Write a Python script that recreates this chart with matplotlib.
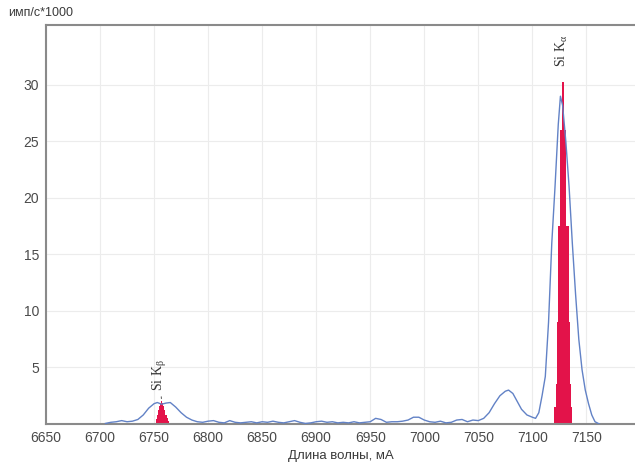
import matplotlib
matplotlib.use("Agg")
import matplotlib.pyplot as plt

# ---- data ----
wl = [6705, 6710, 6715, 6720, 6725, 6730, 6735, 6740, 6745, 6750,
      6753, 6757, 6761, 6765, 6770, 6775, 6780, 6785, 6790, 6795,
      6800, 6805, 6810, 6815, 6820, 6825, 6830, 6835, 6840, 6845,
      6850, 6855, 6860, 6865, 6870, 6875, 6880, 6885, 6890, 6895,
      6900, 6905, 6910, 6915, 6920, 6925, 6930, 6935, 6940, 6945,
      6950, 6955, 6960, 6965, 6970, 6975, 6980, 6985, 6990, 6995,
      7000, 7005, 7010, 7015, 7020, 7025, 7030, 7035, 7040, 7045,
      7050, 7055, 7060, 7065, 7070, 7075, 7078, 7082, 7086, 7090,
      7095, 7100, 7103, 7106, 7109, 7112, 7115, 7118, 7121, 7124,
      7126, 7128, 7131, 7134, 7137, 7140, 7143, 7146, 7149, 7152,
      7155, 7158, 7162]
counts = [0.05, 0.15, 0.2, 0.3, 0.2, 0.25, 0.4, 0.8, 1.4, 1.8,
          1.9, 1.75, 1.85, 1.9, 1.5, 1.0, 0.6, 0.35, 0.2, 0.15,
          0.25, 0.3, 0.15, 0.1, 0.3, 0.15, 0.1, 0.15, 0.2, 0.1,
          0.2, 0.15, 0.25, 0.15, 0.1, 0.2, 0.3, 0.15, 0.05, 0.1,
          0.2, 0.25, 0.15, 0.2, 0.1, 0.15, 0.1, 0.2, 0.1, 0.15,
          0.2, 0.5, 0.4, 0.15, 0.2, 0.2, 0.25, 0.35, 0.6, 0.6,
          0.35, 0.2, 0.15, 0.25, 0.1, 0.15, 0.35, 0.4, 0.2, 0.35,
          0.3, 0.5, 1.0, 1.8, 2.5, 2.9, 3.0, 2.7, 2.0, 1.3,
          0.8, 0.6, 0.5, 1.0, 2.5, 4.2, 9.0, 16.0, 21.0, 26.5,
          29.0, 28.2, 25.0, 21.0, 16.0, 11.5, 7.5, 4.8, 3.0, 1.8,
          0.8, 0.2, 0.0]

kb_x = [6752, 6753, 6754, 6755, 6756, 6757, 6758, 6759, 6760, 6761, 6762, 6763]
kb_h = [0.4, 0.8, 1.2, 1.6, 1.9, 2.0, 1.9, 1.6, 1.2, 0.8, 0.5, 0.3]

ka_x = [7121, 7122, 7123, 7124, 7125, 7126, 7127, 7128, 7129, 7130,
        7131, 7132, 7133, 7134, 7135, 7136]
ka_h = [1.5, 3.5, 9.0, 17.5, 17.5, 26.0, 26.0, 30.3, 30.3, 26.0,
        26.0, 17.5, 17.5, 9.0, 3.5, 1.5]

xticks = [6650, 6700, 6750, 6800, 6850, 6900, 6950, 7000, 7050, 7100, 7150]
yticks = [5, 10, 15, 20, 25, 30]

plt.rcParams['font.family'] = ['Liberation Sans', 'DejaVu Sans']

fig = plt.figure(figsize=(6.35, 4.68), dpi=100)
ax = fig.add_axes([46/635, 1 - 424/468, 1 - 46/635, (424 - 25)/468])

ax.set_xlim(6650, 7195)
ax.set_ylim(0, 35.3)

ax.set_xticks(xticks)
ax.set_yticks(yticks)
ax.grid(True, color='#ececec', linewidth=0.8)
ax.set_axisbelow(True)

ax.bar(kb_x, kb_h, width=1.05, color='#e3134a', linewidth=0, zorder=2)
ax.bar(ka_x, ka_h, width=1.05, color='#e3134a', linewidth=0, zorder=2)
ax.plot(wl, counts, color='#6282c6', linewidth=1.0, zorder=3)

gray = '#8a8a8a'
for s in ['left', 'top', 'bottom']:
    ax.spines[s].set_color(gray)
    ax.spines[s].set_linewidth(1.5)
ax.spines['right'].set_visible(False)
ax.tick_params(length=0, labelsize=10, labelcolor='#4a4a4a', pad=5)

serif = ['Liberation Serif', 'DejaVu Serif']
ax.annotate('Si K$_{\\mathregular{\\beta}}$', xy=(6757, 2.0), xytext=(6755, 2.9),
            rotation=90, ha='center', va='bottom', fontsize=10,
            family=serif, color='#333333',
            arrowprops=dict(arrowstyle='-', color='#555555', lw=0.7))
ax.text(7127, 31.6, 'Si K$_{\\mathregular{\\alpha}}$', rotation=90, ha='center',
        va='bottom', fontsize=10, family=serif, color='#333333')

fig.text(8/635, 1 - 13/468, 'имп/с*1000', ha='left', va='center',
         fontsize=9, color='#3a3a3a')
ax.set_xlabel('Длина волны, мА', fontsize=9.5, color='#3a3a3a', labelpad=4)

fig.savefig('out.png', dpi=100)
